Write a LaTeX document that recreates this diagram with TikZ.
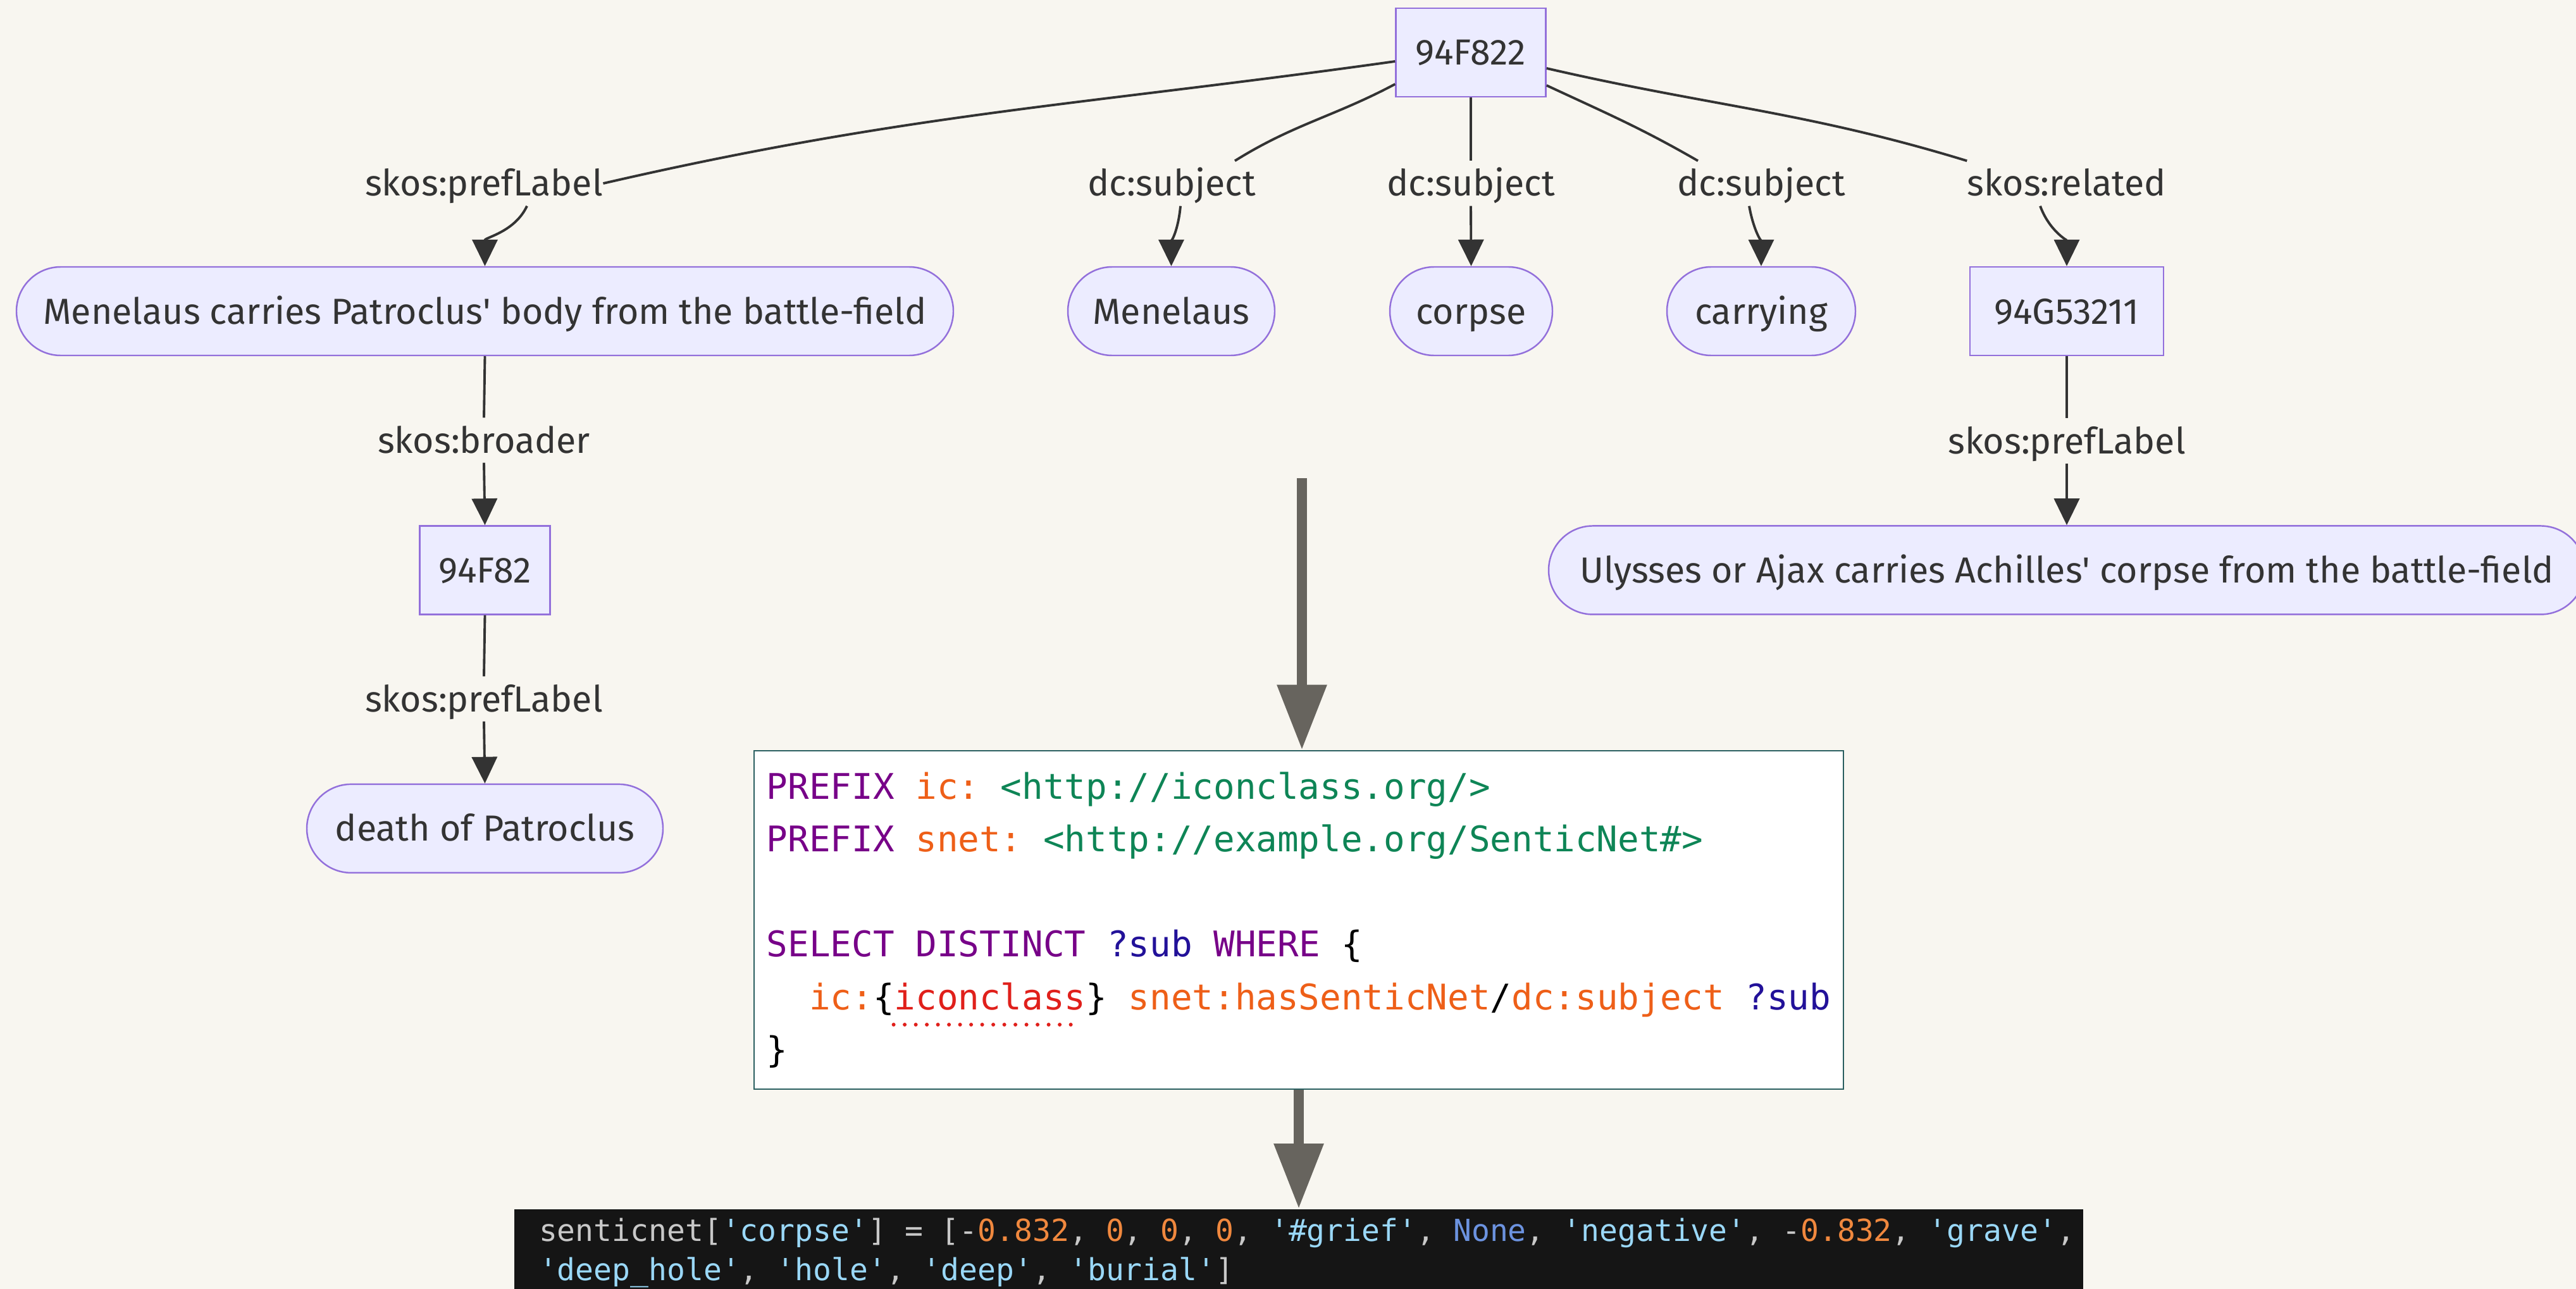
\documentclass[tikz,border=0pt]{standalone}
\usepackage{fontspec}
\setmainfont{Fira Sans}
\setmonofont{DejaVu Sans Mono}
\usepackage{tikz}
\usetikzlibrary{positioning, arrows.meta}

\definecolor{paper}{HTML}{F8F6F0}
\definecolor{nodeFill}{HTML}{ECECFF}
\definecolor{nodeLine}{HTML}{9370DB}
\definecolor{ink}{HTML}{333333}
\definecolor{pipeGray}{HTML}{67645E}
\definecolor{qBorder}{HTML}{2A5F60}
\definecolor{kwPurple}{HTML}{770088}
\definecolor{pfxOrange}{HTML}{EE5F18}
\definecolor{iriGreen}{HTML}{0E8556}
\definecolor{varBlue}{HTML}{221199}
\definecolor{errRed}{HTML}{E0201B}
\definecolor{termBg}{HTML}{151515}
\definecolor{termText}{HTML}{C8C8C8}
\definecolor{termStr}{HTML}{9AD8F8}
\definecolor{termNum}{HTML}{F0883E}
\definecolor{termNone}{HTML}{6C93E0}

\newcommand{\nodefont}{\fontsize{16.3}{19}\selectfont}
\newcommand{\codefont}{\ttfamily\fontsize{15.9}{23.7}\selectfont}
\newcommand{\termfont}{\ttfamily\fontsize{13.66}{17.64}\selectfont}
\newcommand{\pystr}[1]{\textcolor{termStr}{#1}}
\newcommand{\pynum}[1]{\textcolor{termNum}{#1}}

\tikzstyle{Concept} = [rectangle, draw=nodeLine, fill=nodeFill, line width=0.7pt, text=ink, font=\nodefont, minimum height=1.40cm, inner sep=0pt, text height=0.52cm, text depth=0.12cm]
\tikzstyle{Term} = [Concept, rounded corners=0.70cm]
\tikzstyle{EdgeLabel} = [fill=paper, text=ink, font=\nodefont, inner xsep=0pt, inner ysep=0pt, minimum height=0.70cm, text height=0.52cm, text depth=0.12cm]
\tikzstyle{Link} = [ink, line width=1.1pt]
\tikzstyle{Tip} = [-{Triangle[length=0.42cm, width=0.40cm]}]
\tikzstyle{Pipe} = [pipeGray, line width=0.16cm, -{Triangle[length=1.03cm, width=0.75cm]}]
\tikzstyle{Query} = [draw=qBorder, fill=white, line width=0.8pt, minimum width=17.22cm, minimum height=5.35cm, align=left, font=\codefont, inner sep=0pt]
\tikzstyle{Terminal} = [fill=termBg, minimum width=24.80cm, minimum height=1.60cm, inner sep=0pt]
\tikzstyle{TermText} = [align=left, font=\termfont, text=termText, inner sep=0pt]

\begin{document}
\begin{tikzpicture}

    \path[use as bounding box, fill=paper] (0,0) rectangle (40.72,-20.38);

    %%%%%%%%%%%%%%%%%%%%%%
    \node[Concept, minimum width=2.37cm] (icRoot) at (23.25,-0.83) {94F822};

    \node[Term, minimum width=14.81cm] (patroclusBody) at (7.665,-4.92) {Menelaus carries Patroclus\textquotesingle{} body from the battle-field};
    \node[Term, minimum width=3.27cm] (menelaus) at (18.515,-4.92) {Menelaus};
    \node[Term, minimum width=2.57cm] (corpse) at (23.255,-4.92) {corpse};
    \node[Term, minimum width=2.98cm] (carrying) at (27.84,-4.92) {carrying};
    \node[Concept, minimum width=3.06cm] (icRelated) at (32.67,-4.92) {94G53211};

    \node[Concept, minimum width=2.06cm] (icBroader) [below=2.67cm of patroclusBody] {94F82};
    \node[Term, minimum width=5.63cm] (patroclusDeath) [below=2.66cm of icBroader] {death of Patroclus};
    \node[Term, minimum width=16.38cm] (achillesBody) [below=2.67cm of icRelated] {Ulysses or Ajax carries Achilles\textquotesingle{} corpse from the battle-field};

    %%%%%%%%%%%%%%%%%%%%%%
    \node[EdgeLabel] (lPref1) at (7.65,-2.90) {skos:prefLabel};
    \node[EdgeLabel] (lSub1) at (18.52,-2.90) {dc:subject};
    \node[EdgeLabel] (lSub2) at (23.25,-2.90) {dc:subject};
    \node[EdgeLabel] (lSub3) at (27.84,-2.90) {dc:subject};
    \node[EdgeLabel] (lRel) at (32.67,-2.90) {skos:related};
    \node[EdgeLabel] (lBroader) at (7.65,-6.96) {skos:broader};
    \node[EdgeLabel] (lPref2) at (7.65,-11.05) {skos:prefLabel};
    \node[EdgeLabel] (lPref3) at (32.67,-6.97) {skos:prefLabel};

    \draw[Link] ([yshift=-0.14cm]icRoot.west) to [out=188, in=13] (lPref1.east);
    \draw[Link, Tip] ([xshift=0.68cm]lPref1.south) to [out=-115, in=90] (patroclusBody.north);

    \draw[Link] ([yshift=-0.50cm]icRoot.west) to [out=208, in=32] ([xshift=1.0cm]lSub1.north);
    \draw[Link, Tip] ([xshift=0.14cm]lSub1.south) to [out=-95, in=90] (menelaus.north);

    \draw[Link] (icRoot.south) -- (lSub2.north);
    \draw[Link, Tip] (lSub2.south) -- (corpse.north);

    \draw[Link] ([yshift=-0.52cm]icRoot.east) to [out=-25, in=150] ([xshift=-1.0cm]lSub3.north);
    \draw[Link, Tip] ([xshift=-0.19cm]lSub3.south) to [out=-80, in=90] (carrying.north);

    \draw[Link] ([yshift=-0.25cm]icRoot.east) to [out=-13, in=163] (lRel.north west);
    \draw[Link, Tip] ([xshift=-0.42cm]lRel.south) to [out=-70, in=90] (icRelated.north);

    \draw[Link] (patroclusBody.south) -- (lBroader.north);
    \draw[Link, Tip] (lBroader.south) -- (icBroader.north);
    \draw[Link] (icBroader.south) -- (lPref2.north);
    \draw[Link, Tip] (lPref2.south) -- (patroclusDeath.north);
    \draw[Link] (icRelated.south) -- (lPref3.north);
    \draw[Link, Tip] (lPref3.south) -- (achillesBody.north);

    %%%%%%%%%%%%%%%%%%%%%%
    \node[Query] (query) at (20.53,-14.545) {%
\textcolor{kwPurple}{PREFIX} \textcolor{pfxOrange}{ic:} \textcolor{iriGreen}{<http://iconclass.org/>}\\
\textcolor{kwPurple}{PREFIX} \textcolor{pfxOrange}{snet:} \textcolor{iriGreen}{<http://example.org/SenticNet\#>}\\[23.7pt]
\textcolor{kwPurple}{SELECT DISTINCT} \textcolor{varBlue}{?sub} \textcolor{kwPurple}{WHERE} \{\\
\hphantom{xx}\textcolor{pfxOrange}{ic:}\{\textcolor{errRed}{iconclass}\} \textcolor{pfxOrange}{snet:hasSenticNet}/\textcolor{pfxOrange}{dc:subject} \textcolor{varBlue}{?sub}\\
\}};
    \draw[errRed, line width=0.06cm, line cap=round, dash pattern=on 0pt off 0.175cm] ([xshift=2.22cm, yshift=-1.655cm]query.west) -- ([xshift=5.18cm, yshift=-1.655cm]query.west);

    \node[Terminal, anchor=north] (result) at (20.53,-19.11) {};
    \node[TermText, anchor=north west] (resultText) at ([xshift=0.39cm, yshift=-0.14cm]result.north west) {%
senticnet[\pystr{'corpse'}] = [-\pynum{0.832}, \pynum{0}, \pynum{0}, \pynum{0}, \pystr{'\#grief'}, \textcolor{termNone}{None}, \pystr{'negative'}, -\pynum{0.832}, \pystr{'grave'},\\
\pystr{'deep\_hole'}, \pystr{'hole'}, \pystr{'deep'}, \pystr{'burial'}]};

    \coordinate (pipeTop) at (20.58,-7.56);
    \draw[Pipe] (pipeTop) -- (pipeTop |- query.north);
    \draw[Pipe] (query.south) -- (result.north);

\end{tikzpicture}
\end{document}
